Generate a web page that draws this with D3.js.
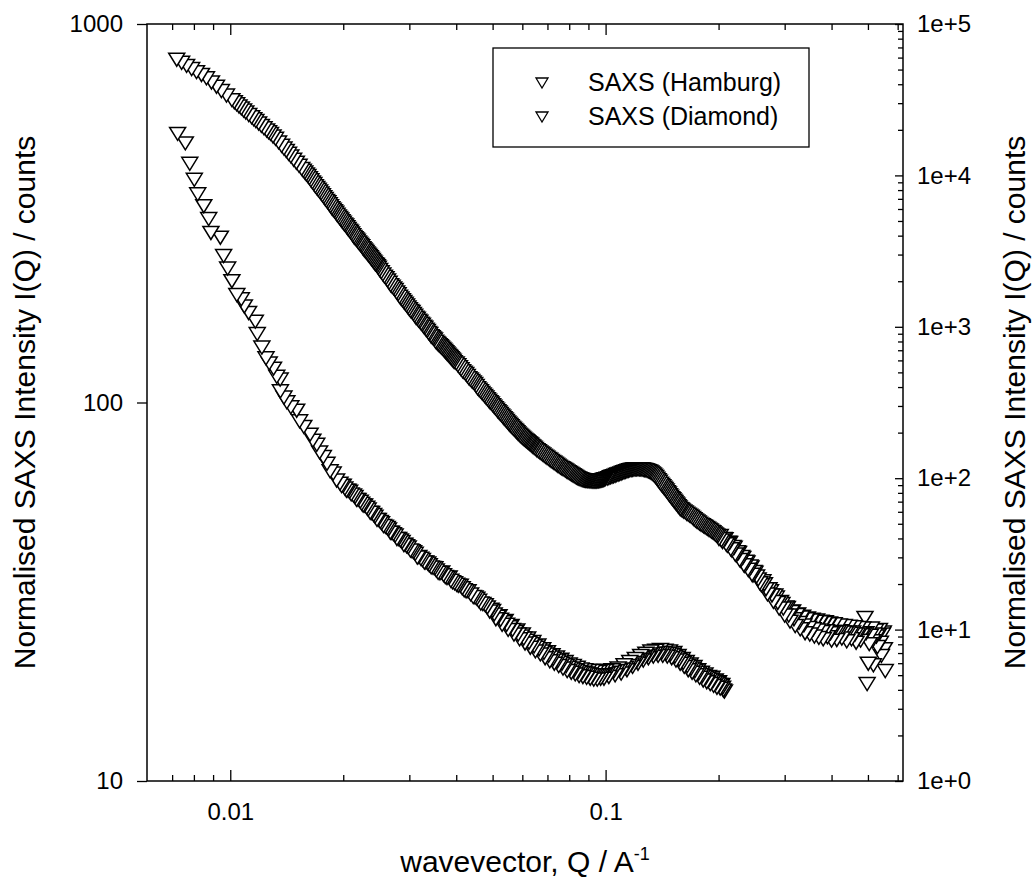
<!DOCTYPE html>
<html>
<head>
<meta charset="utf-8">
<script src="https://cdn.jsdelivr.net/npm/d3@7"></script>
<style>
  html, body { margin: 0; padding: 0; background: #fff; }
  svg { display: block; font-family: "Liberation Sans", Arial, sans-serif; }
</style>
</head>
<body>
<svg id="chart" width="1034" height="882"></svg>
<script>
// ---- data ----
const seriesNames = ["SAXS (Hamburg)", "SAXS (Diamond)"];

const hamburgQ = [
  0.0072,0.00742,0.00765,0.00789,0.00813,0.00838,0.00864,0.00891,0.00919,0.00947,0.00977,
  0.0101,0.01025,0.0104,0.01055,0.0107,0.01085,0.0110,0.0112,0.0114,0.01155,0.0117,0.0119,0.0121,0.0123,
  0.0125,0.01265,0.0128,0.0130,0.0132,0.01345,0.0137,0.0139,0.0141,0.0143,0.0145,0.01475,0.0150,0.01525,
  0.0155,0.01565,0.0158,0.01595,0.0161,0.01625,0.0164,0.01655,0.0167,0.01685,0.0170,0.01715,0.0173,0.01745,
  0.0176,0.01775,0.0179,0.01805,0.0182,0.01835,0.0185,0.01865,0.0188,0.01895,0.0191,0.01925,0.0194,0.01955,
  0.0197,0.01985,0.0200,0.02015,0.0203,0.02045,0.0206,0.02075,0.0209,0.02105,0.0212,0.02135,0.0215,0.02165,
  0.0218,0.02195,0.0221,0.02225,0.0224,0.02255,0.0227,0.02285,0.0230,0.02315,0.0233,0.02345,0.0236,0.02375,
  0.0239,0.02405,0.0242,0.02435,0.0245,0.02465,0.0248,
  0.0250,0.02525,0.0255,0.02575,0.0260,0.02625,0.0265,0.02675,0.0270,0.02725,0.0275,0.02775,0.0280,0.02825,
  0.0285,0.02875,0.0290,0.02925,0.0295,0.02975,0.0300,0.03025,0.0305,0.03075,0.0310,0.03125,0.0315,0.03175,
  0.0320,0.03225,0.0325,0.03275,0.0330,0.03325,0.0335,0.03375,0.0340,0.03425,0.0345,0.03475,0.0350,0.03525,
  0.0355,0.03575,0.0360,0.03625,0.0365,0.03675,0.0370,0.03725,0.0375,0.03775,0.0380,0.03825,0.0385,0.03875,
  0.0390,0.03925,0.0395,
  0.0400,0.0404,0.0408,0.0412,0.0416,0.0420,0.0424,0.0428,0.0432,0.0436,0.0440,0.0444,0.0448,0.0452,0.0456,
  0.0460,0.0464,0.0468,0.0472,0.0476,0.0480,0.0484,0.0488,0.0492,0.0496,0.0500,0.0504,0.0508,0.0512,0.0516,
  0.0520,0.0524,0.0528,0.0532,0.0536,0.0540,0.0544,0.0548,0.0552,0.0556,0.0560,0.0564,0.0568,0.0572,0.0576,
  0.0580,0.0584,0.0588,0.0592,0.0596,0.0600,0.0604,0.0608,0.0612,0.0616,0.0620,0.0624,0.0628,0.0632,0.0636,
  0.0640,0.0645,
  0.0650,0.0656,0.0662,0.0668,0.0674,0.0680,0.0686,0.0692,0.0698,0.0704,0.0710,0.0716,0.0722,0.0728,0.0734,
  0.0740,0.0746,0.0752,0.0758,0.0764,0.0770,0.0776,0.0782,0.0788,0.0794,0.0800,0.0806,0.0812,0.0818,0.0824,
  0.0830,0.0836,0.0842,0.0848,0.0854,0.0860,0.0866,0.0872,0.0878,0.0884,0.0890,0.0896,0.0902,0.0908,0.0914,
  0.0920,0.0926,0.0932,0.0938,0.0944,0.0950,0.0956,0.0962,0.0968,0.0974,0.0980,0.0986,0.0992,0.0998,
  0.101,0.102,0.103,0.104,0.105,0.106,0.107,0.108,0.109,0.110,0.111,0.112,0.113,0.114,0.115,
  0.116,0.117,0.118,0.119,0.120,0.121,0.122,0.123,0.124,0.125,0.126,0.127,0.128,0.129,0.130,
  0.131,0.132,0.133,0.134,0.135,0.136,0.137,0.138,0.139,0.140,0.141,0.142,0.143,0.144,0.145,
  0.146,0.147,0.148,0.149,0.150,0.151,0.152,0.153,0.154,0.155,0.156,0.157,0.158,0.159,0.160,
  0.1615,0.163,0.1645,0.166,0.1675,0.169,0.1705,0.172,0.1735,0.175,0.1765,0.178,0.1795,0.181,0.1825,
  0.184,0.1855,0.187,0.1885,0.190,0.1915,0.193,0.1945,0.196,0.1975,0.199,0.2005,0.202,0.2035,0.205,
  0.2065,0.208,0.2095,0.211,0.2125,0.214,0.2155,0.217,0.2185,0.220,0.2215,0.223,0.2245,0.226,0.2275,
  0.229,0.2305,0.232,0.2335,0.235,0.2365,0.238,0.2395,0.241,0.2425,0.244,0.2455,0.247,0.2485,0.250,
  0.2525,0.255,0.2575,0.260,0.2625,0.265,0.2675,0.270,0.2725,0.275,0.2775,0.280,0.2825,0.285,0.2875,
  0.290,0.2925,0.295,0.2975,0.300,0.3025,0.305,0.3075,0.310,0.3125,0.315,0.3175,0.320,0.3225,0.325,
  0.3275,0.330,0.3325,0.335,0.3375,0.340,0.3425,0.345,0.3475,0.350,0.3525,0.355,0.3575,0.360,0.3625,
  0.365,0.3675,0.370,0.3725,0.375,0.3775,0.380,0.3825,0.385,0.3875,0.390,0.3925,0.395,0.3975,0.400,
  0.4033,0.4065,0.4098,0.413,0.4163,0.4195,0.4228,0.426,0.4293,0.4325,0.4358,0.439,0.4423,0.4455,0.4488,
  0.452,0.4553,0.4585,0.4618,0.465,0.4683,0.4715,0.4748,0.478,0.4813,0.4845,0.4878,0.491,0.4943,0.4975,
  0.501,0.504,0.5073,0.5105,0.5138,0.517,0.5203,0.5235,0.5268,0.530,0.5333,0.5365,0.5398,0.543,0.5463,
  0.5495,0.553,0.556
];
const hamburgI = [
  812,797,782,767,753,740,725,707,689,671,653,
  635,627,619,611,604,596,589,580,572,565,559,551,543,535,
  528,522,517,509,502,491,481,473,466,458,451,442,434,426,
  418,413,409,404,400,395,390,385,381,376,372,368,364,360,
  356,352,348,344,341,337,333,329,326,323,320,316,313,310,
  307,304,301,298,296,293,290,287,285,282,279,276,274,272,
  270,267,265,263,261,258,256,254,252,250,248,246,244,242,
  240,238,236,234,233,231,229,
  226,223,220,217,215,212,209,206,204,202,200,197,195,192,
  190,188,186,184,182,180,178,176,175,173,171,169,168,166,
  165,163,162,160,159,157,156,154,153,151,150,149,148,146,
  145,144,143,142,141,140,139,138,137,136,135,134,133,132,
  131,130,129,
  128,126.5,125,123.5,122,121,120,118.5,117,116,115,114,113,111.5,110,
  109,108,107,106,105,104,103,102,101.1,100.3,99.3,98.4,97.5,96.6,95.7,
  94.9,94.1,93.3,92.5,91.7,91.0,90.2,89.4,88.7,88.0,87.3,86.6,86.0,85.4,84.8,
  84.2,83.6,83.0,82.4,81.9,81.4,80.9,80.5,80.1,79.7,79.2,78.8,78.4,78.0,77.5,
  77.1,76.6,
  76.1,75.5,75.0,74.5,74.0,73.5,73.0,72.5,72.1,71.6,71.2,70.7,70.3,69.9,69.5,
  69.1,68.7,68.3,67.9,67.6,67.3,67.0,66.7,66.3,66.0,65.7,65.4,65.1,64.8,64.5,
  64.2,63.9,63.7,63.5,63.3,63.1,63.0,62.9,62.8,62.7,62.7,62.6,62.6,62.5,62.5,
  62.4,62.4,62.4,62.4,62.4,62.5,62.5,62.6,62.7,62.8,62.9,63.0,63.1,63.3,
  63.5,63.7,64.0,64.2,64.4,64.6,64.9,65.1,65.3,65.5,65.8,66.0,66.2,66.4,66.6,
  66.8,66.9,67.0,67.1,67.2,67.2,67.2,67.2,67.2,67.1,67.0,66.9,66.8,66.6,66.4,
  66.2,65.9,65.5,65.1,64.6,64.1,63.5,62.9,62.3,61.6,61.1,60.6,60.1,59.6,59.1,
  58.5,58.0,57.4,56.9,56.4,56.0,55.5,55.1,54.6,54.2,53.7,53.3,52.8,52.6,52.3,
  52.0,51.7,51.3,51.0,50.7,50.4,50.0,49.6,49.2,48.9,48.6,48.3,48.0,47.8,47.5,
  47.3,47.0,46.8,46.5,46.3,46.0,45.8,45.5,45.2,44.9,44.7,44.0,44.8,43.6,43.2,
  44.0,43.9,42.6,42.2,43.0,42.9,41.3,41.0,41.9,41.7,40.0,39.8,40.6,40.4,38.7,
  38.5,39.4,39.2,37.5,37.3,38.3,38.1,36.5,36.3,37.2,37.0,35.4,35.2,36.0,35.8,
  35.0,34.4,33.6,33.2,34.0,33.4,32.4,31.4,32.4,32.0,31.2,30.0,31.2,30.8,29.8,
  28.8,30.0,29.6,28.8,27.6,29.0,28.9,27.6,26.6,28.2,28.3,27.0,25.9,27.7,27.8,
  26.4,25.4,27.3,27.4,26.0,24.8,27.0,27.1,25.6,24.6,26.8,26.9,25.4,24.3,26.6,
  26.8,25.2,24.1,26.5,26.6,25.0,23.9,26.4,26.5,25.1,24.2,26.2,26.3,24.8,23.7,
  25.0,26.2,24.9,23.8,25.0,26.0,25.1,24.0,24.9,25.9,24.8,23.6,24.9,25.8,24.7,
  23.9,24.9,25.7,24.6,23.4,24.6,25.6,24.8,23.7,24.5,25.5,24.7,27.2,24.8,18.2,
  20.6,23.2,24.4,25.5,23.6,20.4,24.6,25.2,24.3,22.8,24.5,25.3,23.4,21.6,24.6,
  24.9,22.5,19.7
];

const diamondQ = [
  0.00724,0.00759,0.0078,0.00802,0.00819,0.0085,0.00876,0.00888,0.00941,0.0096,
  0.00984,0.0101,0.01041,0.0107,0.0109,0.01119,0.01166,0.0118,0.01214,0.01245,
  0.0127,0.01304,0.0133,0.01358,0.0136,0.0139,0.01415,0.0145,0.01503,0.0153,
  0.0157,0.01632,0.0166,0.017,0.0173,0.0177,0.0181,0.01845,0.0188,0.0192,
  0.0196,0.0198,0.0200,0.0202,0.0204,0.0206,0.0208,0.0210,0.0213,0.0215,
  0.0217,0.0219,0.0222,0.0224,0.0226,0.0228,0.0231,0.0233,0.0236,0.0238,
  0.0241,0.0243,0.0246,0.0248,0.0251,0.0253,0.0256,0.0259,0.0262,0.0264,
  0.0267,0.0269,0.0272,0.0275,0.0278,0.0281,0.0284,0.0287,0.0290,0.0292,
  0.0295,0.0298,0.0302,0.0305,0.0308,0.0311,0.0315,0.0318,0.0322,0.0325,
  0.0329,0.0332,0.0336,0.0339,0.0343,0.0347,0.0351,0.0354,0.0358,0.0362,
  0.0366,0.0370,0.0374,0.0378,0.0383,0.0387,0.0391,0.0396,0.0401,0.0405,
  0.0410,0.0415,0.0420,0.0425,0.0430,0.0437,0.0444,0.0449,0.0454,0.0459,
  0.0465,0.0471,0.0478,0.0484,0.0491,0.0495,
  0.0500,0.0505,0.0510,0.0515,0.0520,0.0525,0.0530,0.0535,0.0540,0.0545,
  0.0550,0.0555,0.0560,0.0565,0.0570,0.0575,0.0580,0.0585,0.0590,0.0595,
  0.0600,0.0605,0.0610,0.0615,0.0620,0.0625,0.0630,0.0635,0.0640,0.0645,
  0.0650,0.0655,0.0660,0.0665,0.0670,0.0675,0.0680,0.0685,0.0690,0.0695,
  0.0700,0.0705,0.0710,0.0715,0.0720,0.0725,0.0730,0.0735,0.0740,0.0745,
  0.0750,0.0755,0.0760,0.0765,0.0770,0.0775,0.0780,0.0785,0.0790,0.0795,
  0.0800,0.0805,0.0810,0.0815,0.0820,0.0825,0.0830,0.0835,0.0840,0.0845,
  0.0850,0.0855,0.0860,0.0865,0.0870,0.0875,0.0880,0.0885,0.0890,0.0895,
  0.0900,0.0905,0.0910,0.0915,0.0920,0.0925,0.0930,0.0935,0.0940,0.0945,
  0.0950,0.0955,0.0960,0.0965,0.0970,0.0975,0.0980,0.0985,0.0990,0.0995,
  0.1000,
  0.101,0.102,0.103,0.104,0.105,0.106,0.107,0.108,0.109,0.110,
  0.111,0.112,0.113,0.114,0.115,0.116,0.117,0.118,0.119,0.120,
  0.121,0.122,0.123,0.124,0.125,0.126,0.127,0.128,0.129,0.130,
  0.131,0.132,0.133,0.134,0.135,0.136,0.137,0.138,0.139,0.140,
  0.141,0.142,0.143,0.144,0.145,0.146,0.147,0.148,0.149,0.150,
  0.151,0.152,0.153,0.154,0.155,0.156,0.157,0.158,0.159,0.160,
  0.161,0.162,0.163,0.164,0.165,0.166,0.167,0.168,0.169,0.170,
  0.171,0.172,0.173,0.174,0.175,0.176,0.177,0.178,0.179,0.180,
  0.181,0.182,0.183,0.184,0.185,0.186,0.187,0.188,0.189,0.190,
  0.191,0.192,0.193,0.194,0.195,0.196,0.197,0.198,0.199,0.200,
  0.201,0.202,0.203,0.204,0.205,0.206,0.2073
];
const diamondI = [
  517,488,431,391,358,333,308,283,275,246,
  228,211,194,189,181,174,165,153,141,132,
  128,124,118,116,108,104,101,98,96,90,
  87,83,80,78,74.5,72.4,69.5,66.4,65.5,62.8,
  61.6,60.7,60.8,59.8,59.0,59.0,58.6,57.7,57.3,56.8,
  55.8,55.8,55.2,54.5,53.9,53.9,53.2,52.6,51.6,51.5,
  50.9,50.4,49.4,49.4,48.8,48.4,47.6,47.4,47.0,46.6,
  45.7,45.7,45.3,44.9,44.0,44.0,43.6,43.2,42.4,42.5,
  42.1,41.8,41.0,40.8,40.6,40.2,39.3,39.4,39.0,38.7,
  38.1,38.1,37.9,37.5,37.0,36.9,36.8,36.3,35.8,35.7,
  35.9,35.3,34.9,34.7,34.8,34.1,33.8,33.6,33.3,33.1,
  33.1,32.6,32.2,32.0,32.0,31.4,30.9,30.8,30.6,30.2,
  29.7,29.6,29.4,29.0,28.3,28.6,
  28.4,27.8,27.0,27.4,27.5,26.9,26.1,26.5,26.7,26.1,
  25.3,25.7,25.9,25.3,24.6,25.0,25.2,24.6,23.9,24.3,
  24.6,24.0,23.3,23.7,24.0,23.4,22.7,23.2,23.5,22.9,
  22.2,22.7,23.0,22.5,21.8,22.2,22.5,22.0,21.3,21.8,
  22.1,21.6,20.9,21.4,21.7,21.2,20.6,21.0,21.4,20.9,
  20.3,20.7,21.1,20.6,20.0,20.4,20.8,20.3,19.7,20.1,
  20.5,20.0,19.5,19.9,20.3,19.8,19.3,19.7,20.1,19.6,
  19.1,19.5,19.9,19.5,19.0,19.4,19.8,19.4,18.9,19.3,
  19.7,19.3,18.8,19.2,19.7,19.2,18.7,19.2,19.6,19.2,
  18.7,19.2,19.6,19.2,18.8,19.2,19.7,19.3,18.8,19.3,
  19.7,
  19.4,19.0,19.5,19.8,19.6,19.2,19.7,20.0,19.8,19.4,
  19.9,20.4,20.1,19.8,20.3,20.8,20.5,20.2,20.7,21.2,
  20.9,20.6,21.1,21.6,21.3,21.0,21.5,21.9,21.6,21.3,
  21.8,22.2,21.9,21.5,21.9,22.3,22.0,21.6,22.0,22.4,
  22.0,21.6,22.0,22.3,21.9,21.5,21.9,22.2,21.8,21.3,
  21.7,22.0,21.5,21.0,21.3,21.6,21.1,20.6,20.9,21.2,
  20.7,20.2,20.5,20.8,20.3,19.8,20.2,20.5,20.0,19.5,
  19.9,20.2,19.7,19.2,19.5,19.8,19.4,18.9,19.2,19.5,
  19.1,18.6,19.0,19.3,18.9,18.4,18.8,19.0,18.7,18.2,
  18.6,18.9,18.5,18.0,18.4,18.6,18.3,17.8,18.2,18.4,
  18.1,17.7,18.0,18.1,17.8,17.5,17.4
];

const xMajorTicks = [0.01, 0.1];
const xMajorLabels = ["0.01", "0.1"];
const xMinorTicks = [0.007,0.008,0.009,0.02,0.03,0.04,0.05,0.06,0.07,0.08,0.09,0.2,0.3,0.4,0.5,0.6];
const leftTicks = [10, 100, 1000];
const leftLabels = ["10", "100", "1000"];
const rightTicks = [1, 10, 100, 1000, 10000, 100000];
const rightLabels = ["1e+0", "1e+1", "1e+2", "1e+3", "1e+4", "1e+5"];
const rightMinorTicks = [2,3,4,5,6,7,8,9,20,30,40,50,60,70,80,90,200,300,400,500,600,700,800,900,
  2000,3000,4000,5000,6000,7000,8000,9000,20000,30000,40000,50000,60000,70000,80000,90000];
const yTitle = "Normalised SAXS Intensity I(Q) / counts";

// ---- layout ----
const L = 147, R = 903, T = 24, B = 781;
const svg = d3.select("#chart");

const x = d3.scaleLog().domain([0.006, 0.62]).range([L, R]);
const yL = d3.scaleLog().domain([10, 1000]).range([B, T]);
const yR = d3.scaleLog().domain([1, 100000]).range([B, T]);

const FONT_TICK = 24, FONT_TITLE = 30;

function styleAxis(g) {
  g.select(".domain").remove();
  g.selectAll(".tick line").attr("stroke", "#000").attr("stroke-width", 1.3);
  g.selectAll("text").attr("fill", "#000").style("font-size", FONT_TICK + "px")
    .style("font-family", "'Liberation Sans', Arial, sans-serif");
}

// bottom axis
svg.append("g").attr("transform", `translate(0,${B})`)
  .call(d3.axisBottom(x).tickValues(xMinorTicks).tickSize(-6).tickFormat(""))
  .call(styleAxis);
svg.append("g").attr("transform", `translate(0,${B})`)
  .call(d3.axisBottom(x).tickValues(xMajorTicks).tickSize(-11).tickPadding(22)
    .tickFormat((d, i) => xMajorLabels[i]))
  .call(styleAxis);
// top axis
svg.append("g").attr("transform", `translate(0,${T})`)
  .call(d3.axisTop(x).tickValues(xMinorTicks).tickSize(-6).tickFormat(""))
  .call(styleAxis);
svg.append("g").attr("transform", `translate(0,${T})`)
  .call(d3.axisTop(x).tickValues(xMajorTicks).tickSize(-11).tickFormat(""))
  .call(styleAxis);
// left axis
svg.append("g").attr("transform", `translate(${L},0)`)
  .call(d3.axisLeft(yL).tickValues(leftTicks).tickSize(10).tickPadding(14)
    .tickFormat((d, i) => leftLabels[i]))
  .call(styleAxis);
// right axis
svg.append("g").attr("transform", `translate(${R},0)`)
  .call(d3.axisRight(yR).tickValues(rightMinorTicks).tickSize(-5).tickFormat(""))
  .call(styleAxis);
svg.append("g").attr("transform", `translate(${R},0)`)
  .call(d3.axisRight(yR).tickValues(rightTicks).tickSize(-8).tickPadding(14)
    .tickFormat((d, i) => rightLabels[i]))
  .call(styleAxis);

// frame
svg.append("rect").attr("x", L).attr("y", T).attr("width", R - L).attr("height", B - T)
  .attr("fill", "none").attr("stroke", "#000").attr("stroke-width", 1.5);

// titles
const xt = svg.append("text").attr("x", (L + R) / 2).attr("y", 872)
  .attr("text-anchor", "middle").style("font-size", FONT_TITLE + "px").attr("fill", "#000");
xt.append("tspan").text("wavevector, Q / A");
xt.append("tspan").attr("dy", -12).style("font-size", "18px").text("-1");

svg.append("text").attr("transform", `translate(35,${(T + B) / 2}) rotate(-90)`)
  .attr("text-anchor", "middle").style("font-size", FONT_TITLE + "px").attr("fill", "#000")
  .text(yTitle);
svg.append("text").attr("transform", `translate(1025,${(T + B) / 2}) rotate(-90)`)
  .attr("text-anchor", "middle").style("font-size", FONT_TITLE + "px").attr("fill", "#000")
  .text(yTitle);

// markers (earlier points drawn on top, as in the reference)
const tri = "M-8,-5L8,-5L0,8Z";
const plot = svg.append("g");
function drawSeries(qs, is) {
  const n = Math.min(qs.length, is.length);
  const pts = [];
  for (let i = 0; i < n; i++) pts.push({ q: qs[i], I: is[i] });
  plot.append("g").selectAll("path").data(pts.reverse()).join("path")
    .attr("d", tri)
    .attr("transform", d => `translate(${x(d.q)},${yL(d.I)})`)
    .attr("fill", "#fff").attr("stroke", "#000").attr("stroke-width", 1.5);
}
drawSeries(diamondQ, diamondI);
drawSeries(hamburgQ, hamburgI);

// legend
const lg = svg.append("g");
lg.append("rect").attr("x", 493).attr("y", 48).attr("width", 316).attr("height", 99)
  .attr("fill", "#fff").attr("stroke", "#000").attr("stroke-width", 1.3);
const legTri = "M-6,-4L6,-4L0,6Z";
seriesNames.forEach((name, i) => {
  const cy = 82 + i * 34;
  lg.append("path").attr("d", legTri).attr("transform", `translate(542,${cy})`)
    .attr("fill", "#fff").attr("stroke", "#000").attr("stroke-width", 1.3);
  lg.append("text").attr("x", 588).attr("y", cy).attr("dy", "0.35em")
    .style("font-size", "25px").attr("fill", "#000").text(name);
});
</script>
</body>
</html>
